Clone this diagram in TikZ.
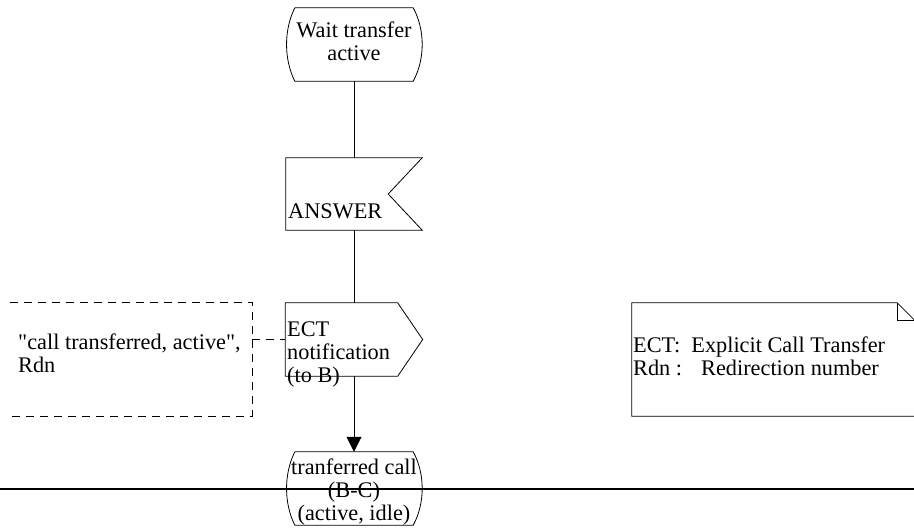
\documentclass[tikz,border=0pt]{standalone}
\usepackage{fontspec}
\setmainfont{Liberation Serif}
\newfontfamily\qfont{Liberation Serif}
\usetikzlibrary{arrows.meta,calc}
\begin{document}
\begin{tikzpicture}[x=1pt,y=-1pt,
  lbl/.style={font=\fontsize{22.3}{23}\selectfont, inner sep=0pt},
  shp/.style={draw=none, inner sep=0pt, rectangle},
  ln/.style={line width=0.8pt, draw=black},
  dashln/.style={line width=0.8pt, draw=black, dash pattern=on 8pt off 6pt}]
\useasboundingbox (0,0) rectangle (914,528);

% top state
\node[shp, minimum width=118pt, minimum height=73pt] (wait) at (354,44.5) {};
\draw[ln] (wait.north west) -- (wait.north east)
  .. controls +(12,22) and +(12,-22) .. (wait.south east) -- (wait.south west)
  .. controls +(-11,-22) and +(-11,22) .. (wait.north west);
\node[lbl, align=center] (waitlbl) at (354,41) {Wait transfer\\active};

% ANSWER signal input
\node[shp, minimum width=136pt, minimum height=72pt] (answer) at (354,194) {};
\draw[ln] (answer.north west) -- (answer.north east) -- ($(answer.east)+(-34,0)$)
  -- (answer.south east) -- (answer.south west) -- cycle;
\node[lbl, anchor=west] (answerlbl) at (288,211.5) {ANSWER};

% ECT signal output
\node[shp, minimum width=137pt, minimum height=73pt] (ect) at (354,339.5) {};
\draw[ln] (ect.north west) -- ($(ect.north east)+(-25,0)$) -- (ect.east)
  -- ($(ect.south east)+(-25,0)$) -- (ect.south west) -- cycle;
\node[lbl, anchor=west, align=left] (ectlbl) at (287,354) {ECT\\notification\\(to B)};

% comment
\node[shp, minimum width=242pt, minimum height=113pt] (cmt) at (131,359.5) {};
\draw[dashln] (cmt.north west) -- (cmt.north east) -- (cmt.south east) -- (cmt.south west);
\draw[dashln] (cmt.east |- ect.west) -- (ect.west);
\node[lbl, anchor=west, align=left] (cmtlbl) at (18,353) {{\qfont"}call transferred, active{\qfont"},\\Rdn};

% text note
\node[shp, minimum width=283pt, minimum height=113pt] (note) at (773.5,359.5) {};
\draw[ln] (note.south east) -- (note.south west) -- (note.north west)
  -- ($(note.north east)+(-18,0)$) -- ($(note.north east)+(0,18)$) -- (note.south east);
\draw[ln] ($(note.north east)+(-18,0)$) -- ++(0,18) -- ++(18,0);
\node[lbl, anchor=west, align=left] (notelbl) at (633,356) {ECT:\hspace{11pt}Explicit Call Transfer\\Rdn :\hspace{19pt}Redirection number};

% bottom state
\node[shp, minimum width=118pt, minimum height=73pt] (done) at (354,488.5) {};
\draw[ln] (done.north west) -- (done.north east)
  .. controls +(12,22) and +(12,-22) .. (done.south east) -- (done.south west)
  .. controls +(-11,-22) and +(-11,22) .. (done.north west);
\node[lbl, align=center] (donelbl) at (354,492.5) {tranferred call\\(B-C)\\(active, idle)};

% connectors
\draw[ln] (wait.south) -- (answer.north);
\draw[ln] (answer.south) -- (ect.north);
\draw[ln, -{Triangle[length=15pt,width=15pt]}] (ect.south) -- (done.north);

% horizontal rule
\coordinate (hl) at (0,489);
\coordinate (hr) at (914,489);
\draw[line width=2pt] (hl) -- (hr);
\end{tikzpicture}
\end{document}
